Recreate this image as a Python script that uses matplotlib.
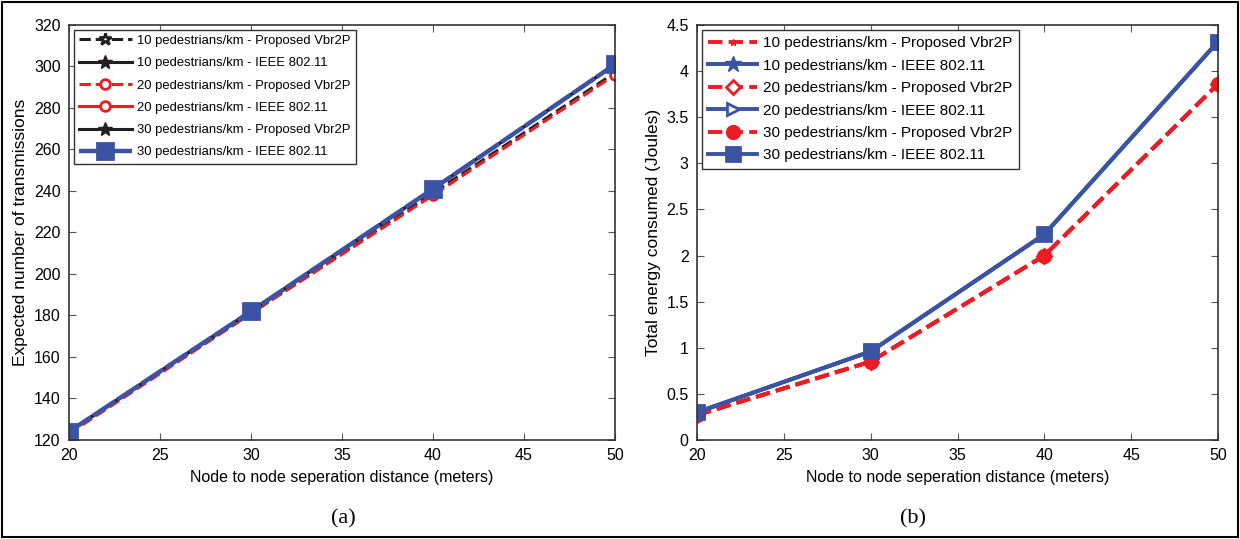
import matplotlib
matplotlib.use('Agg')
import matplotlib.pyplot as plt
from matplotlib.patches import Rectangle

plt.rcParams['font.family'] = ['Liberation Sans', 'DejaVu Sans']

# datos
distance = [20, 30, 40, 50]

# (a) transmisiones esperadas
tx_10_prop = [124, 181, 239, 297]
tx_10_ieee = [124, 182, 241, 301]
tx_20_prop = [123, 181, 238, 296]
tx_20_ieee = [124, 182, 241, 301]
tx_30_prop = [124, 182, 241, 301]
tx_30_ieee = [124, 182, 241, 301]

# (b) energia total
en_10_prop = [0.27, 0.85, 2.00, 3.86]
en_10_ieee = [0.30, 0.96, 2.23, 4.32]
en_20_prop = [0.27, 0.85, 2.00, 3.86]
en_20_ieee = [0.30, 0.96, 2.23, 4.32]
en_30_prop = [0.27, 0.85, 2.00, 3.86]
en_30_ieee = [0.30, 0.96, 2.23, 4.32]

labels = ['10 pedestrians/km - Proposed Vbr2P', '10 pedestrians/km - IEEE 802.11',
          '20 pedestrians/km - Proposed Vbr2P', '20 pedestrians/km - IEEE 802.11',
          '30 pedestrians/km - Proposed Vbr2P', '30 pedestrians/km - IEEE 802.11']

RED = '#ED1C24'
BLUE = '#3A53A4'
BLACK = '#231F20'

fig = plt.figure(figsize=(12.4, 5.39), dpi=100)
ax1 = fig.add_axes([0.0556, 0.1837, 0.4404, 0.770])
ax2 = fig.add_axes([0.5621, 0.1837, 0.4202, 0.770])

# --- panel (a) ---
ax1.plot(distance, tx_10_prop, '--', color=BLACK, lw=2.2, marker='*', ms=9, mfc='white', mew=2, label=labels[0])
ax1.plot(distance, tx_10_ieee, '-', color=BLACK, lw=2.2, marker='*', ms=10, label=labels[1])
ax1.plot(distance, tx_20_prop, '--', color=RED, lw=2.2, marker='o', ms=7, mfc='white', mew=2, label=labels[2])
ax1.plot(distance, tx_20_ieee, '-', color=RED, lw=2.2, marker='o', ms=7, mfc='white', mew=2, label=labels[3])
ax1.plot(distance, tx_30_prop, '-', color=BLACK, lw=2.2, marker='*', ms=10, label=labels[4])
ax1.plot(distance, tx_30_ieee, '--', color=BLUE, lw=3.2, marker='s', ms=11, mfc=BLUE, mew=2,
         dashes=(6, 0.5), label=labels[5])
ax1.set_xlim(20, 50)
ax1.set_ylim(120, 320)
ax1.set_yticks(range(120, 321, 20))
ax1.set_xlabel('Node to node seperation distance (meters)', fontsize=11.5, labelpad=5)
ax1.set_ylabel('Expected number of transmissions', fontsize=12.5, labelpad=4)

# --- panel (b) ---
ax2.plot(distance, en_10_prop, '--', color=RED, lw=2.8, marker='*', ms=5, label=labels[0])
ax2.plot(distance, en_10_ieee, '-', color=BLUE, lw=2.8, marker='*', ms=12, label=labels[1])
ax2.plot(distance, en_20_prop, '--', color=RED, lw=2.8, marker='D', ms=7, mfc='white', mew=2, label=labels[2])
ax2.plot(distance, en_20_ieee, '-', color=BLUE, lw=2.8, marker='>', ms=8, mfc='white', mew=2, label=labels[3])
ax2.plot(distance, en_30_prop, '--', color=RED, lw=2.8, marker='o', ms=9, mfc=RED, mew=2, label=labels[4])
ax2.plot(distance, en_30_ieee, '-', color=BLUE, lw=2.8, marker='s', ms=10, mfc=BLUE, mew=2, label=labels[5])
ax2.set_xlim(20, 50)
ax2.set_ylim(0, 4.5)
ax2.set_yticks([0, 0.5, 1, 1.5, 2, 2.5, 3, 3.5, 4, 4.5])
ax2.set_yticklabels(['0', '0.5', '1', '1.5', '2', '2.5', '3', '3.5', '4', '4.5'])
ax2.set_xlabel('Node to node seperation distance (meters)', fontsize=11.5, labelpad=5)
ax2.set_ylabel('Total energy consumed (Joules)', fontsize=12.5, labelpad=4)

# leyendas: (fontsize, handlelength, labelspacing)
leg_cfg = {ax1: (9.4, 4.1, 0.78), ax2: (11.0, 3.2, 0.55)}

for ax in (ax1, ax2):
    ax.set_xticks([20, 25, 30, 35, 40, 45, 50])
    ax.tick_params(direction='in', top=True, right=True, labelsize=11.5, length=5, width=0.8,
                   color='#555555', pad=6)
    for s in ax.spines.values():
        s.set_color('#333333')
        s.set_linewidth(1.2)
    fs, hl, ls = leg_cfg[ax]
    leg = ax.legend(loc='upper left', fontsize=fs, handlelength=hl, borderaxespad=0.35,
                    fancybox=False, framealpha=1, edgecolor='#333333', labelspacing=ls,
                    handletextpad=0.4, borderpad=0.4)
    leg.get_frame().set_linewidth(1.0)

fig.text(0.277, 0.038, '(a)', ha='center', va='center', fontsize=16, family='Liberation Serif')
fig.text(0.736, 0.038, '(b)', ha='center', va='center', fontsize=16, family='Liberation Serif')

# marco exterior
fig.patches.append(Rectangle((0.002, 0.003), 0.996, 0.994, transform=fig.transFigure,
                             fill=False, edgecolor='black', lw=1.5))

plt.savefig('out.png', dpi=100)
plt.close()
